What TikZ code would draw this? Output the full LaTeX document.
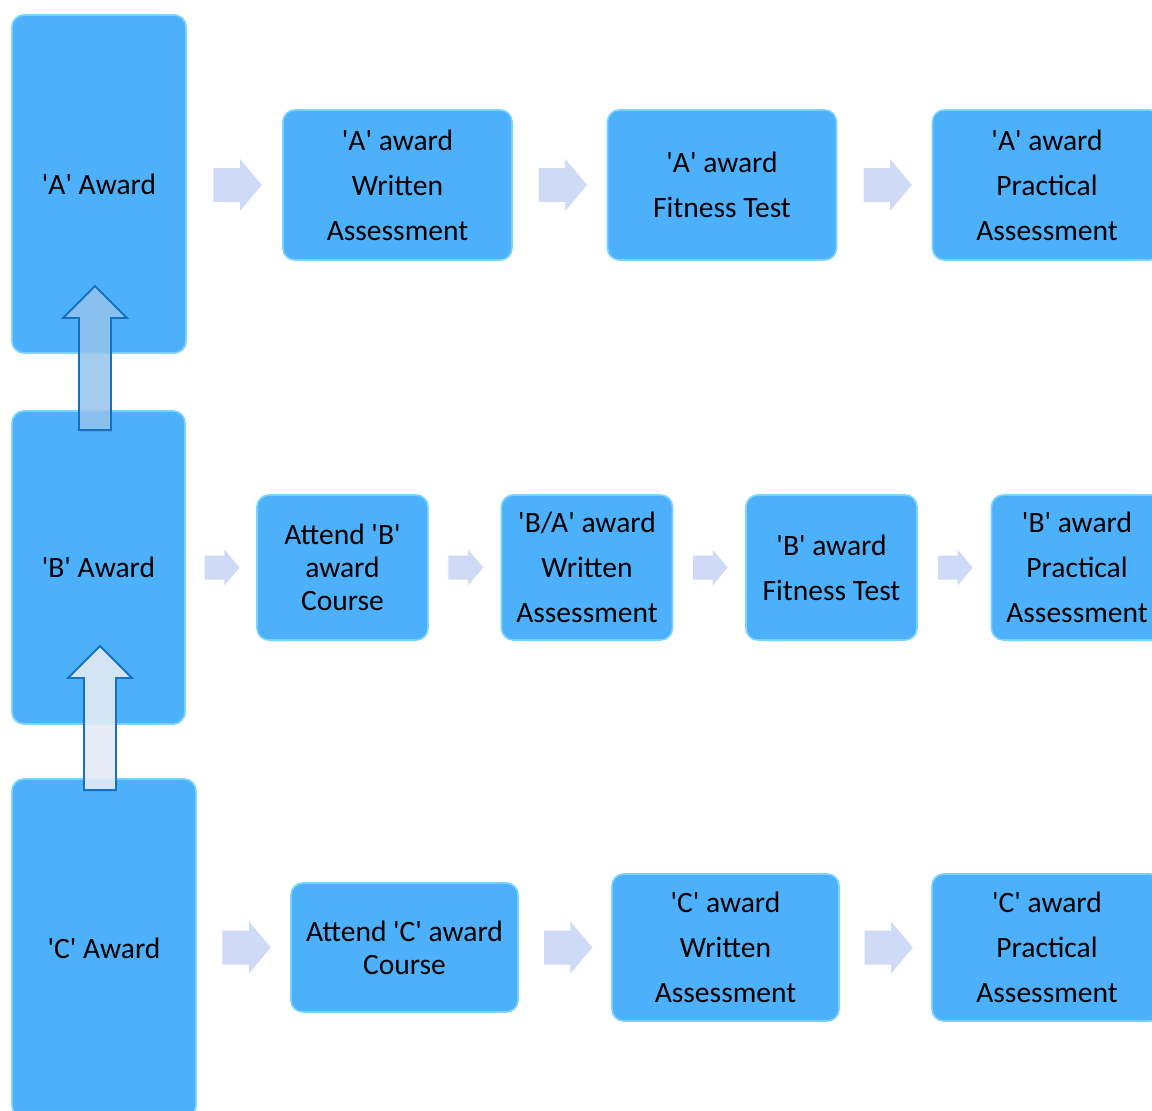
\documentclass[tikz,border=0pt]{standalone}
\usepackage{fontspec}
\setmainfont{Carlito}[Ligatures=TeXOff]
\usepackage{tikz}
\usetikzlibrary{shapes,shapes.arrows,calc}
\usetikzlibrary{positioning}
\definecolor{clrBox}{RGB}{76,176,250}
\definecolor{clrBoxEdge}{RGB}{120,212,255}
\definecolor{clrChevron}{RGB}{206,218,246}
\definecolor{clrUpEdge}{RGB}{22,112,192}
\tikzstyle{box_style0}=[draw=clrBoxEdge, line width=1.2pt, rounded corners=3mm,
anchor=center, align=center, text=black, fill=clrBox, inner sep=0pt,
font=\fontsize{21}{32}\selectfont]
\tikzstyle{award}=[box_style0]
\tikzstyle{row_a}=[box_style0, minimum width=5.725cm, minimum height=3.75cm]
\tikzstyle{row_b}=[box_style0, minimum width=4.275cm, minimum height=3.625cm]
\tikzstyle{row_c}=[box_style0, minimum width=5.675cm, minimum height=3.675cm]
\tikzstyle{attend}=[font=\fontsize{21}{23.5}\selectfont]
\tikzstyle{chevron}=[single arrow, draw=white, line width=0.6pt, fill=clrChevron,
single arrow tip angle=100, xshift=-0.1cm]
\tikzstyle{chevron_big}=[chevron, inner sep=0.425cm, minimum height=1.2cm, single arrow head extend=0.25cm]
\tikzstyle{chevron_small}=[chevron, inner sep=0.3cm, minimum height=0.9cm, single arrow head extend=0.175cm]
\tikzstyle{up_arrow}=[single arrow, shape border rotate=90, draw=clrUpEdge, line width=1.4pt,
inner sep=0.375cm, minimum height=3.6cm, single arrow head extend=0.4cm, yshift=-0.2cm]

\begin{document}
\begin{tikzpicture}[x=0.025cm, y=-0.025cm]
		\useasboundingbox (0,0) rectangle (1152,1111) ;
		\clip (0,0) rectangle (1152,1111) ;

		% left column
		\node[award, minimum width=4.35cm, minimum height=8.45cm] (awA) at (99,184) {'A' Award} ;
		\node[award, minimum width=4.325cm, minimum height=7.825cm] (awB) at (98.5,567.5) {'B' Award} ;
		\node[award, minimum width=4.6cm, minimum height=8.45cm] (awC) at (104,948) {'C' Award} ;

		% 'A' row
		\node[row_a] (A1) at (397.5,185) {'A' award\\Written\\Assessment} ;
		\node[row_a] (A2) at (722,185) {'A' award\\Fitness Test} ;
		\node[row_a] (A3) at (1047,185) {'A' award\\Practical\\Assessment} ;
		\node[chevron_big] (a0) at ($(awA.east |- A1)!0.5!(A1.west)$) {} ;
		\node[chevron_big] (a1) at ($(A1.east)!0.5!(A2.west)$) {} ;
		\node[chevron_big] (a2) at ($(A2.east)!0.5!(A3.west)$) {} ;

		% 'B' row
		\node[row_b, attend] (B1) at (342.5,567.5) {Attend 'B'\\award\\Course} ;
		\node[row_b] (B2) at (587,567.5) {'B/A' award\\Written\\Assessment} ;
		\node[row_b] (B3) at (831.5,567.5) {'B' award\\Fitness Test} ;
		\node[row_b] (B4) at (1077,567.5) {'B' award\\Practical\\Assessment} ;
		\node[chevron_small] (b0) at ($(awB.east |- B1)!0.5!(B1.west)$) {} ;
		\node[chevron_small] (b1) at ($(B1.east)!0.5!(B2.west)$) {} ;
		\node[chevron_small] (b2) at ($(B2.east)!0.5!(B3.west)$) {} ;
		\node[chevron_small] (b3) at ($(B3.east)!0.5!(B4.west)$) {} ;

		% 'C' row
		\node[row_c, attend, minimum height=3.225cm] (C1) at (404.5,947.5) {Attend 'C' award\\Course} ;
		\node[row_c] (C2) at (725.5,947.5) {'C' award\\Written\\Assessment} ;
		\node[row_c, minimum width=5.75cm] (C3) at (1047,947.5) {'C' award\\Practical\\Assessment} ;
		\node[chevron_big] (c0) at ($(awC.east |- C1)!0.5!(C1.west)$) {} ;
		\node[chevron_big] (c1) at ($(C1.east)!0.5!(C2.west)$) {} ;
		\node[chevron_big] (c2) at ($(C2.east)!0.5!(C3.west)$) {} ;

		% progression
		\node[up_arrow, fill={rgb,255:red,150;green,195;blue,235}, fill opacity=0.85] (upBA) at (95,358) {} ;
		\node[up_arrow, fill={rgb,255:red,226;green,234;blue,244}, fill opacity=0.9] (upCB) at (100,718) {} ;

	\end{tikzpicture}
\end{document}
